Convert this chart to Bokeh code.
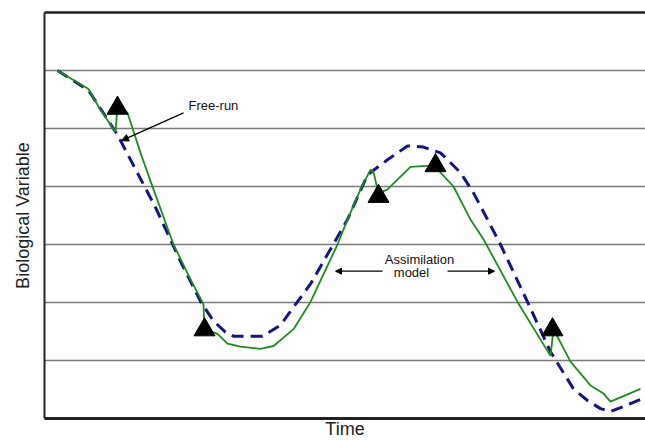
from bokeh.plotting import figure
from bokeh.models import FixedTicker, LinearAxis, Label, Arrow, NormalHead, Range1d, Grid
from bokeh.embed import file_html
from bokeh.resources import INLINE

# Free-run model (dashed)
free_time = [1.3, 4.4, 7.3, 11.1, 13.6, 15.6, 16.9, 18.1, 18.9, 21.8, 23.6, 24.9, 26.6,
             28.6, 30.3, 32.3, 34.3, 36.3, 37.9, 39.6, 41.6, 42.9, 44.3, 45.6, 48.3,
             50.6, 52.9, 54.3, 55.6, 56.6, 58.1, 59.6]
free_value = [6.00, 5.66, 4.89, 3.64, 2.71, 2.02, 1.68, 1.49, 1.42, 1.42, 1.61, 1.92, 2.32,
              2.92, 3.43, 4.20, 4.46, 4.70, 4.68, 4.58, 4.24, 3.89, 3.43, 3.00, 2.01,
              1.15, 0.51, 0.31, 0.17, 0.12, 0.22, 0.33]

# Assimilation model (solid green)
assim_time = [1.3, 4.4, 5.6, 7.1, 7.3, 8.3, 9.6, 10.9, 12.9, 14.6, 15.9, 16.0, 17.3, 18.3,
              19.6, 21.6, 22.9, 24.9, 26.6, 29.3, 30.3, 31.6, 32.6, 32.9, 33.4, 34.3,
              36.6, 38.6, 39.1, 39.6, 40.9, 42.6, 43.9, 47.3, 50.6, 50.9, 52.6, 54.6,
              55.9, 56.6, 59.6]
assim_value = [6.00, 5.68, 5.32, 4.94, 5.39, 5.27, 4.58, 3.95, 3.00, 2.40, 1.97, 1.54, 1.46,
               1.29, 1.24, 1.20, 1.25, 1.54, 2.01, 3.00, 3.43, 3.95, 4.29, 4.25, 3.88, 3.95,
               4.34, 4.36, 4.39, 4.24, 4.00, 3.43, 3.09, 2.01, 1.08, 1.54, 0.98, 0.57,
               0.43, 0.29, 0.51]

# Observations (triangles)
obs_time = [7.3, 16.0, 33.4, 39.1, 50.8]
obs_value = [5.35, 1.53, 3.83, 4.36, 1.53]

grid_values = [1, 2, 3, 4, 5, 6]

FONT = "Liberation Sans"

p = figure(width=645, height=441, output_backend="svg", toolbar_location=None,
           x_axis_type=None, y_axis_type=None,
           x_range=Range1d(0, 60.1), y_range=Range1d(0, 7),
           min_border_left=44, min_border_right=0, min_border_top=12, min_border_bottom=21)
p.outline_line_color = None
p.background_fill_color = "white"

left = LinearAxis(ticker=FixedTicker(ticks=[]), axis_label="Biological Variable")
below = LinearAxis(ticker=FixedTicker(ticks=[]), axis_label="Time")
above = LinearAxis(ticker=FixedTicker(ticks=[]))
for ax in (left, below, above):
    ax.major_label_text_font_size = "0px"
    ax.major_tick_out = 0
    ax.major_tick_in = 0
    ax.minor_tick_out = 0
    ax.minor_tick_in = 0
    ax.axis_line_color = "#222222"
    ax.axis_label_text_font = FONT
    ax.axis_label_text_font_size = "18px"
    ax.axis_label_text_font_style = "normal"
    ax.axis_label_text_color = "#222222"
    ax.major_label_standoff = 0
left.axis_line_width = 2
below.axis_line_width = 3
above.axis_line_width = 2.5
left.axis_label_standoff = 12
below.axis_label_standoff = 0
p.add_layout(left, "left")
p.add_layout(below, "below")
p.add_layout(above, "above")

# horizontal grid lines
p.add_layout(Grid(dimension=1, ticker=FixedTicker(ticks=grid_values),
                  grid_line_color="#7a7a7a", grid_line_width=1.5))

p.line(free_time, free_value, line_color="#15157f", line_width=3, line_dash="12 7")
p.line(assim_time, assim_value, line_color="#1e8c1e", line_width=1.8)
p.scatter(obs_time, obs_value, marker="triangle", size=21, fill_color="black",
          line_color="black")

p.add_layout(Label(x=14.4, y=5.40, text="Free-run", text_font=FONT, text_font_size="13px",
                   text_baseline="middle", text_align="left", text_color="#111111"))
p.add_layout(Arrow(x_start=13.9, y_start=5.27, x_end=7.7, y_end=4.79, line_width=1.3,
                   line_color="black",
                   end=NormalHead(size=7, fill_color="black", line_color="black")))

p.add_layout(Label(x=37.5, y=2.75, text="Assimilation", text_font=FONT, text_font_size="13px",
                   text_baseline="middle", text_align="center", text_color="#111111"))
p.add_layout(Label(x=36.7, y=2.52, text="model", text_font=FONT, text_font_size="13px",
                   text_baseline="middle", text_align="center", text_color="#111111"))
p.add_layout(Arrow(x_start=33.8, y_start=2.54, x_end=29.1, y_end=2.54, line_width=1.3,
                   line_color="black",
                   end=NormalHead(size=6, fill_color="black", line_color="black")))
p.add_layout(Arrow(x_start=40.3, y_start=2.54, x_end=45.0, y_end=2.54, line_width=1.3,
                   line_color="black",
                   end=NormalHead(size=6, fill_color="black", line_color="black")))

open("out.html", "w").write(file_html(p, INLINE))
